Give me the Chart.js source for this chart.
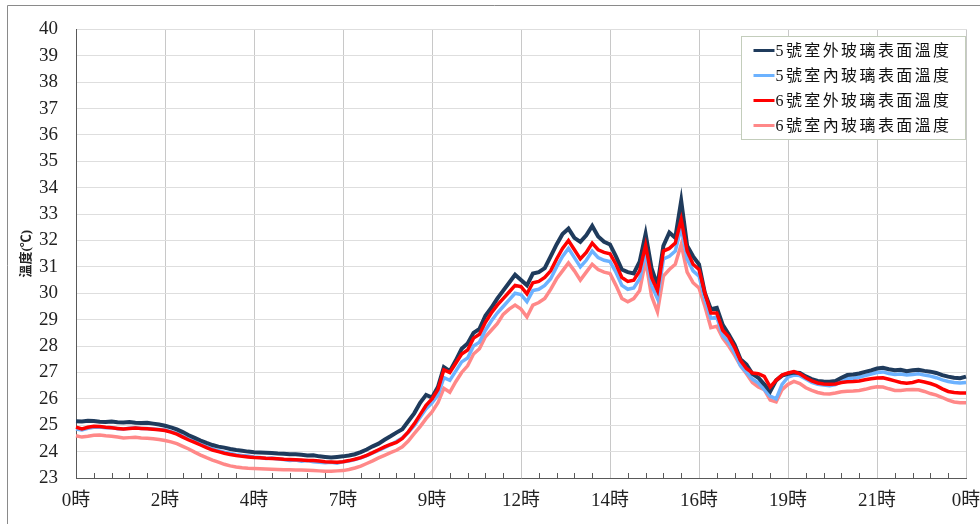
<!DOCTYPE html>
<html>
<head>
<meta charset="utf-8">
<script src="https://cdn.jsdelivr.net/npm/chart.js@4.4.1/dist/chart.umd.min.js"></script>
<style>
  html, body { margin: 0; padding: 0; background: #ffffff; }
  #c { display: block; }
</style>
</head>
<body>
<canvas id="c" width="980" height="524" style="width:980px;height:524px"></canvas>
<script>
// Hour labels shown under the major ticks (every 15 samples, 2.4 h apart)
const hourTicks = ['0時', '2時', '4時', '7時', '9時', '12時', '14時', '16時', '19時', '21時', '0時'];
const samplesPerMajor = 15;   // 151 samples over 24 h (9.6 min apart)
const samplesPerMinor = 3;

// Glass surface temperatures (°C)
const room5Outer = [
  25.15, 25.14, 25.17, 25.16, 25.13, 25.12, 25.14, 25.11, 25.10, 25.12,
  25.09, 25.08, 25.09, 25.06, 25.03, 24.98, 24.92, 24.84, 24.74, 24.62,
  24.52, 24.42, 24.33, 24.25, 24.19, 24.15, 24.10, 24.06, 24.03, 24.00,
  23.98, 23.97, 23.96, 23.95, 23.93, 23.92, 23.90, 23.90, 23.88, 23.85,
  23.86, 23.82, 23.80, 23.78, 23.80, 23.82, 23.85, 23.90, 23.98, 24.08,
  24.20, 24.30, 24.45, 24.58, 24.72, 24.85, 25.15, 25.45, 25.85, 26.15,
  26.05, 26.45, 27.20, 27.05, 27.45, 27.90, 28.10, 28.50, 28.65, 29.15,
  29.45, 29.80, 30.10, 30.40, 30.70, 30.50, 30.30, 30.75, 30.80, 30.95,
  31.40, 31.85, 32.25, 32.45, 32.10, 31.95, 32.20, 32.55, 32.15, 31.95,
  31.85, 31.40, 30.90, 30.80, 30.75, 31.20, 32.25, 30.95, 30.30, 31.80,
  32.30, 32.10, 33.50, 31.80, 31.40, 31.10, 30.00, 29.40, 29.45, 28.80,
  28.45, 28.05, 27.50, 27.30, 26.95, 26.80, 26.55, 26.28, 26.70, 26.88,
  26.95, 27.00, 26.98, 26.85, 26.75, 26.68, 26.66, 26.65, 26.68, 26.80,
  26.90, 26.92, 26.96, 27.02, 27.08, 27.15, 27.18, 27.12, 27.08, 27.10,
  27.05, 27.08, 27.10, 27.06, 27.03, 26.98, 26.90, 26.84, 26.80, 26.78, 26.84
];
const room5Inner = [
  24.86, 24.82, 24.88, 24.92, 24.93, 24.90, 24.91, 24.87, 24.86, 24.89,
  24.90, 24.88, 24.88, 24.86, 24.84, 24.82, 24.76, 24.69, 24.58, 24.47,
  24.38, 24.28, 24.18, 24.10, 24.03, 23.98, 23.93, 23.88, 23.85, 23.83,
  23.80, 23.78, 23.74, 23.76, 23.72, 23.70, 23.66, 23.68, 23.64, 23.66,
  23.62, 23.60, 23.58, 23.60, 23.56, 23.62, 23.64, 23.70, 23.76, 23.85,
  23.95, 24.05, 24.15, 24.26, 24.38, 24.52, 24.72, 24.98, 25.30, 25.62,
  25.85, 26.15, 26.80, 26.70, 27.05, 27.40, 27.55, 28.00, 28.15, 28.60,
  28.95, 29.25, 29.50, 29.75, 30.00, 29.95, 29.68, 30.10, 30.15, 30.30,
  30.55, 31.00, 31.40, 31.70, 31.35, 31.00, 31.25, 31.60, 31.35, 31.25,
  31.20, 30.80, 30.30, 30.15, 30.20, 30.55, 31.55, 30.30, 29.80, 31.30,
  31.40, 31.60, 32.50, 31.30, 30.85, 30.65, 29.75, 29.05, 29.10, 28.40,
  28.15, 27.75, 27.25, 27.00, 26.75, 26.60, 26.35, 26.10, 26.00, 26.55,
  26.82, 26.90, 26.88, 26.75, 26.62, 26.55, 26.52, 26.50, 26.54, 26.66,
  26.76, 26.78, 26.82, 26.88, 26.94, 27.00, 27.02, 26.96, 26.92, 26.94,
  26.90, 26.92, 26.95, 26.90, 26.86, 26.80, 26.72, 26.66, 26.62, 26.60, 26.62
];
const room6Outer = [
  24.93, 24.86, 24.92, 24.96, 24.95, 24.92, 24.90, 24.88, 24.86, 24.88,
  24.89, 24.88, 24.87, 24.85, 24.83, 24.80, 24.74, 24.66, 24.55, 24.44,
  24.35, 24.25, 24.15, 24.06, 24.00, 23.94, 23.89, 23.85, 23.82, 23.80,
  23.78, 23.77, 23.75, 23.74, 23.73, 23.71, 23.70, 23.69, 23.68, 23.66,
  23.66, 23.64, 23.62, 23.61, 23.60, 23.62, 23.66, 23.71, 23.77, 23.86,
  23.96, 24.07, 24.18, 24.27, 24.35, 24.50, 24.75, 25.05, 25.40, 25.75,
  26.00, 26.35, 27.10, 27.00, 27.35, 27.70, 27.85, 28.30, 28.45, 28.90,
  29.25, 29.55, 29.80, 30.05, 30.30, 30.25, 29.98, 30.40, 30.45, 30.60,
  30.85, 31.30, 31.70, 32.00, 31.65, 31.30, 31.55, 31.90, 31.65, 31.55,
  31.50, 31.10, 30.60, 30.45, 30.50, 30.85, 31.82, 30.60, 30.10, 31.60,
  31.70, 31.90, 32.80, 31.60, 31.10, 30.90, 30.00, 29.25, 29.25, 28.60,
  28.35, 27.95, 27.45, 27.15, 26.98, 26.95, 26.85, 26.45, 26.70, 26.90,
  26.98, 27.03, 26.95, 26.80, 26.68, 26.60, 26.56, 26.55, 26.56, 26.62,
  26.65, 26.66, 26.68, 26.72, 26.76, 26.79, 26.80, 26.74, 26.68, 26.62,
  26.59, 26.62, 26.68, 26.64, 26.58, 26.50, 26.38, 26.28, 26.24, 26.22, 26.22
];
const room6Inner = [
  24.60, 24.55, 24.58, 24.62, 24.63, 24.60, 24.58, 24.55, 24.52, 24.53,
  24.54, 24.52, 24.51, 24.49, 24.46, 24.42, 24.37, 24.30, 24.20, 24.10,
  23.98, 23.87, 23.77, 23.68, 23.60, 23.52, 23.46, 23.42, 23.39, 23.37,
  23.36, 23.35, 23.34, 23.33, 23.32, 23.31, 23.31, 23.30, 23.30, 23.29,
  23.28, 23.27, 23.26, 23.26, 23.27, 23.28, 23.32, 23.38, 23.45, 23.55,
  23.65, 23.76, 23.86, 23.96, 24.05, 24.18, 24.40, 24.68, 24.95, 25.25,
  25.50, 25.85, 26.40, 26.25, 26.65, 27.00, 27.25, 27.70, 27.90, 28.35,
  28.60, 28.85, 29.20, 29.40, 29.55, 29.40, 29.10, 29.55, 29.65, 29.80,
  30.15, 30.55, 30.85, 31.15, 30.85, 30.50, 30.80, 31.10, 30.90, 30.80,
  30.75, 30.30, 29.80, 29.68, 29.80, 30.10, 31.25, 29.90, 29.30, 30.65,
  30.90, 31.10, 31.85, 30.80, 30.40, 30.20, 29.50, 28.70, 28.75, 28.30,
  28.00, 27.65, 27.25, 26.95, 26.62, 26.45, 26.35, 25.95, 25.88, 26.35,
  26.55, 26.66, 26.58, 26.42, 26.32, 26.24, 26.19, 26.18, 26.22, 26.27,
  26.29, 26.30, 26.32, 26.36, 26.42, 26.46, 26.45, 26.38, 26.32, 26.32,
  26.34, 26.35, 26.34, 26.28, 26.20, 26.14, 26.05, 25.95, 25.88, 25.85, 25.85
];

// One category per sample; only every 15th carries an hour label
const sampleLabels = room5Outer.map((_, i) =>
  i % samplesPerMajor === 0 ? hourTicks[i / samplesPerMajor] : '');

const serif = "'Liberation Serif', 'Times New Roman', 'Noto Sans CJK TC', serif";
const cjk = "'Liberation Serif', 'Noto Sans CJK TC', serif";

// Outer frame, minor tick marks on the time axis and the boxed legend
const decorations = {
  id: 'decorations',
  beforeDraw(chart) {
    const ctx = chart.ctx;
    ctx.save();
    ctx.fillStyle = '#ffffff';
    ctx.fillRect(0, 0, chart.width, chart.height);
    ctx.restore();
  },
  afterDraw(chart) {
    const ctx = chart.ctx;
    const area = chart.chartArea;
    const xs = chart.scales.x;
    ctx.save();

    // frame around the whole figure
    ctx.strokeStyle = '#8a8a8a';
    ctx.lineWidth = 1;
    ctx.beginPath();
    ctx.moveTo(7.5, chart.height + 5);
    ctx.lineTo(7.5, 5.5);
    ctx.lineTo(chart.width + 5, 5.5);
    ctx.stroke();

    // minor ticks pointing up from the time axis
    ctx.strokeStyle = '#595959';
    ctx.beginPath();
    for (let i = 0; i < sampleLabels.length; i += samplesPerMinor) {
      if (i % samplesPerMajor === 0) continue;
      const px = Math.round(xs.getPixelForValue(i)) + 0.5;
      ctx.moveTo(px, area.bottom);
      ctx.lineTo(px, area.bottom - 5);
    }
    ctx.stroke();

    // legend box in the upper right of the plot
    const boxW = 224, boxH = 103;
    const bx = Math.round(area.right) - boxW - 0.5;
    const by = Math.round(area.top) + 7.5;
    ctx.fillStyle = '#ffffff';
    ctx.fillRect(bx, by, boxW, boxH);
    ctx.strokeStyle = '#c3cdbb';
    ctx.strokeRect(bx, by, boxW, boxH);

    ctx.font = '16px ' + cjk;
    ctx.textBaseline = 'middle';
    ctx.textAlign = 'left';
    if ('letterSpacing' in ctx) ctx.letterSpacing = '2.4px';
    chart.data.datasets.forEach((ds, k) => {
      const cy = by + 14 + k * 25;
      ctx.strokeStyle = ds.borderColor;
      ctx.lineWidth = 3;
      ctx.beginPath();
      ctx.moveTo(bx + 12, cy);
      ctx.lineTo(bx + 33, cy);
      ctx.stroke();
      ctx.fillStyle = '#111111';
      ctx.fillText(ds.label, bx + 34, cy + 1);
    });
    ctx.restore();
  }
};

const line = (label, data, color, width, order) => ({
  label, data,
  borderColor: color,
  backgroundColor: color,
  borderWidth: width,
  pointRadius: 0,
  tension: 0,
  fill: false,
  order
});

new Chart(document.getElementById('c'), {
  type: 'line',
  data: {
    labels: sampleLabels,
    datasets: [
      line('5號室外玻璃表面溫度', room5Outer, '#1f3b5c', 4, 1),
      line('5號室內玻璃表面溫度', room5Inner, '#6cb2ff', 3.5, 2),
      line('6號室外玻璃表面溫度', room6Outer, '#ff0000', 3.5, 0),
      line('6號室內玻璃表面溫度', room6Inner, '#ff8888', 3.5, 3)
    ]
  },
  options: {
    responsive: false,
    animation: false,
    devicePixelRatio: 1,
    layout: { padding: { left: 18, top: 22, right: 14, bottom: 0 } },
    plugins: {
      legend: { display: false },
      tooltip: { enabled: false }
    },
    scales: {
      x: {
        type: 'category',
        offset: false,
        grid: {
          drawTicks: false,
          color: c => (c.index % samplesPerMajor === 0 ? '#c8c8c8' : 'rgba(0,0,0,0)'),
          lineWidth: 1
        },
        border: { display: true, color: '#595959', width: 1 },
        ticks: {
          autoSkip: false,
          maxRotation: 0,
          minRotation: 0,
          padding: 12,
          color: '#222222',
          font: { family: serif, size: 19 },
          callback: (v, i) => sampleLabels[i]
        },
        afterFit: s => { s.height = 46; s.paddingLeft = 0; s.paddingRight = 0; }
      },
      y: {
        min: 23,
        max: 40,
        grid: { drawTicks: false, color: '#dedede', lineWidth: 1 },
        border: { display: true, color: '#595959', width: 1 },
        ticks: {
          stepSize: 1,
          padding: 18,
          color: '#222222',
          font: { family: serif, size: 19 }
        },
        title: {
          display: true,
          text: '溫度(℃)',
          color: '#222222',
          font: { family: cjk, size: 13, weight: 'bold' },
          padding: { top: 1, bottom: 0 }
        },
        afterFit: s => { s.width = 58; }
      }
    }
  },
  plugins: [decorations]
});
</script>
</body>
</html>
